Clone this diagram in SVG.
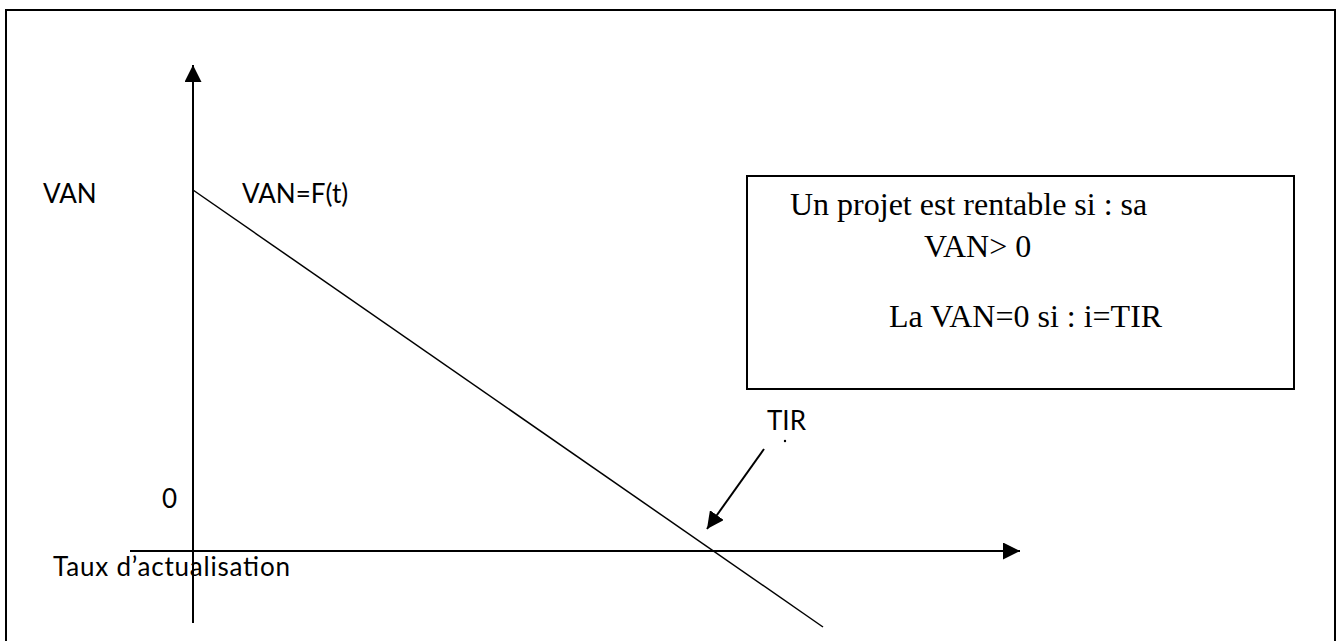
<svg xmlns="http://www.w3.org/2000/svg" width="1339" height="641" viewBox="0 0 1339 641">
<style>
.sans{font-family:Lato,"Open Sans","Liberation Sans",sans-serif;font-size:26px;fill:#000}
.serif{font-family:"Liberation Serif","Times New Roman",serif;font-size:32px;fill:#000}
.ln{stroke:#000;fill:none}
</style>
<defs>
<marker id="ah" viewBox="0 0 10 10" refX="10" refY="5" markerWidth="17" markerHeight="17" markerUnits="userSpaceOnUse" orient="auto">
<path d="M0,0 L10,5 L0,10 z" fill="#000"/>
</marker>
</defs>
<rect width="1339" height="641" fill="#fff"/>
<g id="frame">
<path class="ln" d="M6,645 V10 H1335 V645" stroke-width="2"/>
</g>
<g id="connectors">
<line class="ln" x1="193" y1="623" x2="193" y2="65" stroke-width="2" marker-end="url(#ah)"/>
<line class="ln" x1="130" y1="551" x2="1020" y2="551" stroke-width="2" marker-end="url(#ah)"/>
<line class="ln" x1="193" y1="190" x2="823" y2="627" stroke-width="1.5"/>
<line class="ln" x1="764" y1="449" x2="707" y2="529" stroke-width="2" marker-end="url(#ah)"/>
</g>
<g id="label-van"><text class="sans" x="43" y="203">VAN</text></g>
<g id="label-vanft"><text class="sans" x="242" y="203">VAN=F(t)</text></g>
<g id="label-zero"><text class="sans" x="162" y="508">0</text></g>
<g id="label-taux"><text class="sans" x="53" y="576" textLength="237">Taux d’actualisation</text></g>
<g id="label-tir"><text class="sans" x="767" y="430">TIR</text><circle cx="785" cy="441" r="1.2" fill="#000"/></g>
<g id="note">
<rect x="747" y="176" width="547" height="213" fill="#fff" stroke="#000" stroke-width="2"/>
<text class="serif" x="790" y="215">Un projet est rentable si : sa</text>
<text class="serif" x="924" y="257">VAN&gt; 0</text>
<text class="serif" x="889" y="327">La VAN=0 si : i=TIR</text>
</g>
</svg>
